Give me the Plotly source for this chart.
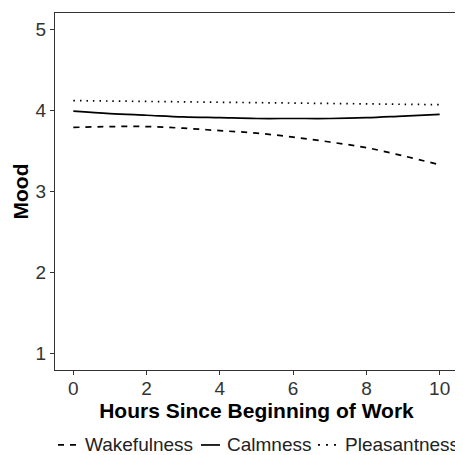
import plotly.graph_objects as go

hours = [0, 1, 2, 3, 4, 5, 6, 7, 8, 9, 10]
wakefulness = [3.79, 3.80, 3.80, 3.78, 3.75, 3.72, 3.67, 3.61, 3.54, 3.44, 3.33]
calmness = [3.99, 3.96, 3.94, 3.92, 3.91, 3.90, 3.90, 3.90, 3.91, 3.93, 3.95]
pleasantness = [4.12, 4.115, 4.11, 4.105, 4.10, 4.095, 4.09, 4.085, 4.08, 4.075, 4.07]

series_names = ["Wakefulness", "Calmness", "Pleasantness"]
series_values = [wakefulness, calmness, pleasantness]
series_dash = ["6px,6px", "solid", "1.5px,5px"]
legend_dash = ["6px,6px", "solid", "2px,6px"]

FONT = "Liberation Sans, Arial, sans-serif"

fig = go.Figure()
for name, vals, dash in zip(series_names, series_values, series_dash):
    fig.add_trace(go.Scatter(
        x=hours, y=vals, mode="lines", name=name,
        line=dict(color="black", width=1.7, dash=dash, shape="spline"),
    ))

axis_common = dict(
    showgrid=False, zeroline=False, showline=True, mirror=True,
    linecolor="#333333", linewidth=1.2,
    ticks="outside", ticklen=4, tickwidth=1.1, tickcolor="#333333",
    tickfont=dict(family=FONT, size=19, color="#333333"),
    automargin=False,
)

# Custom horizontal legend below the plot (paper coordinates, page pixels)
plot_l, plot_w = 55, 403
legend_y = -0.21
sample_px = [(58, 77), (201, 220), (318, 338)]
text_px = [84, 226, 344]
for name, dash, (s0, s1), tx in zip(series_names, legend_dash, sample_px, text_px):
    fig.add_shape(type="line", xref="paper", yref="paper",
                  x0=(s0 - plot_l) / plot_w, x1=(s1 - plot_l) / plot_w,
                  y0=legend_y, y1=legend_y,
                  line=dict(color="black", width=1.7, dash=dash))
    fig.add_annotation(text=name, xref="paper", yref="paper",
                       x=(tx - plot_l) / plot_w, y=legend_y,
                       xanchor="left", yanchor="middle", showarrow=False,
                       borderpad=0,
                       font=dict(family=FONT, size=19, color="#222222"))

fig.update_layout(
    width=455, height=447,
    margin=dict(l=47, r=5, t=5, b=85),
    paper_bgcolor="white", plot_bgcolor="white",
    font=dict(family=FONT, color="black"),
    showlegend=False,
    xaxis=dict(range=[-0.5, 10.5], tickvals=[0, 2, 4, 6, 8, 10],
               ticklabelstandoff=-3,
               title=dict(text="<b>Hours Since Beginning of Work</b>",
                          font=dict(size=21, color="black"), standoff=1),
               **axis_common),
    yaxis=dict(range=[0.8, 5.2], tickvals=[1, 2, 3, 4, 5],
               title=dict(text="<b>Mood</b>", font=dict(size=21, color="black"), standoff=1),
               **axis_common),
)

fig.write_html("out.html")
